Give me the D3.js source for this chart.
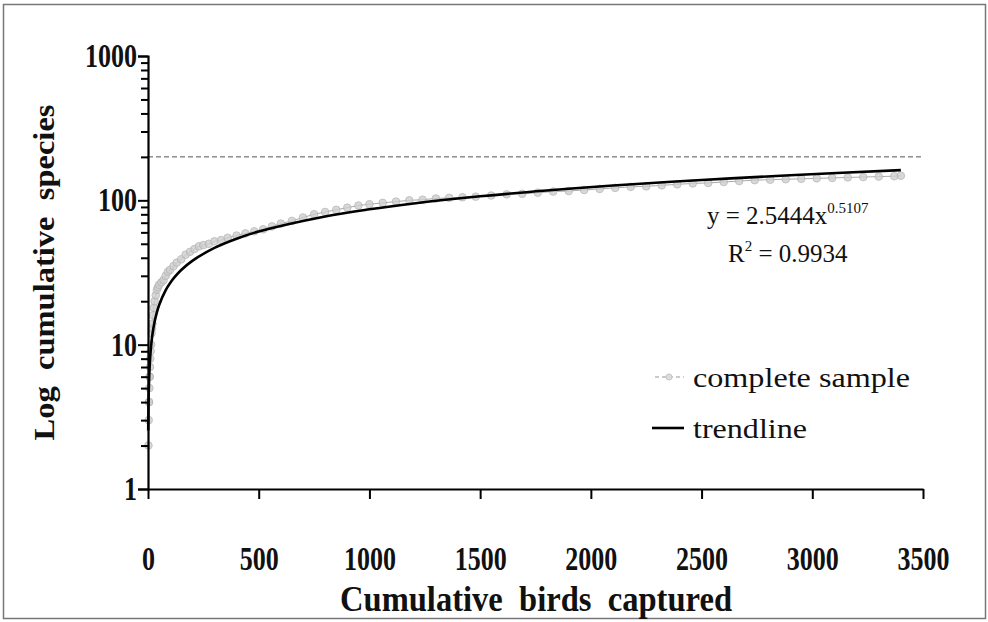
<!DOCTYPE html>
<html><head><meta charset="utf-8">
<script src="https://cdn.jsdelivr.net/npm/d3@7"></script>
<style>
html,body{margin:0;padding:0;background:#fff;}
svg{display:block;}
text{font-family:"Liberation Serif","Times New Roman",serif;fill:#111;}
</style></head>
<body>
<svg id="chart" width="988" height="622"></svg>
<script>
// ---- data ----
const birds = [2,3,4,5,6,7,8,9,10,12,14,16,18,20,23,26,30,35,40,45,50,60,70,80,90,100,115,130,150,170,190,210,230,250,275,300,330,360,400,440,480,520,560,600,650,700,750,800,850,900,950,1000,1060,1120,1180,1240,1300,1360,1420,1480,1550,1620,1690,1760,1830,1900,1970,2040,2110,2180,2250,2320,2390,2460,2530,2600,2670,2740,2810,2880,2950,3020,3090,3160,3230,3300,3370,3400];
const species = [2,3,4,4,5,6,6,7,8,9,10,12,13,14,16,18,20,22,24,25,26,27,28,30,32,33,35,37,39,42,44,46,48,49,50,52,53,55,57,59,61,63,66,69,72,76,80,83,86,89,92,94,96,98,100,101,103,104,105,106,108,110,111,113,115,116,118,120,122,124,125,127,129,131,132,134,136,138,139,140,141,142,143,144,145,146,147,148];
// trendline y = 2.5444x^0.5107, values as drawn
const trendX = [1,2,3,5,8,12,15,20,30,40,50,80,100,120,150,200,300,400,500,800,1000,1200,1500,1800,2100,2500,2900,3400];
const trendY = [2.544,3.625,4.459,5.788,7.358,9.052,10.14,11.75,14.45,16.74,18.76,23.85,26.73,29.34,32.88,38.08,46.85,54.26,60.82,77.30,86.64,95.08,106.6,117.0,126.6,138.3,149.2,161.9];
const xTicks = [0,500,1000,1500,2000,2500,3000,3500];
const yTicks = [1,10,100,1000];
const yMinor = [2,3,4,5,6,7,8,9,20,30,40,50,60,70,80,90,200,300,400,500,600,700,800,900];
const asymptote = 200;
const legendLabels = ["complete sample","trendline"];
const xTitle = "Cumulative  birds  captured";
const yTitle = "Log  cumulative  species";

const svg = d3.select("#chart");
// frame
svg.append("rect").attr("x",3.5).attr("y",4.5).attr("width",982).attr("height",614)
  .attr("fill","#fff").attr("stroke","#777").attr("stroke-width",1.5);

const x = d3.scaleLinear().domain([0,3500]).range([148,923]);
const y = d3.scaleLog().domain([1,1000]).range([489,56]);

// dashed asymptote
svg.append("line").attr("x1",x(0)).attr("x2",922).attr("y1",y(asymptote)).attr("y2",y(asymptote))
  .attr("stroke","#555").attr("stroke-width",1).attr("stroke-dasharray","5,3");

// data series
const pts = birds.map((b,i)=>[b,species[i]]);
svg.append("path").datum(pts)
  .attr("d", d3.line().x(d=>x(d[0])).y(d=>y(d[1])))
  .attr("fill","none").attr("stroke","#aaa").attr("stroke-width",1);
svg.append("g").selectAll("circle").data(pts).join("circle")
  .attr("cx",d=>x(d[0])).attr("cy",d=>y(d[1])).attr("r",3.8)
  .attr("fill","#cfcfcf").attr("stroke","#b3b3b3").attr("stroke-width",1).attr("opacity",0.8);

// trendline
const tpts = trendX.map((t,i)=>[t,trendY[i]]);
svg.append("path").datum(tpts)
  .attr("d", d3.line().x(d=>x(d[0])).y(d=>y(d[1])).curve(d3.curveCatmullRom.alpha(0.5)))
  .attr("fill","none").attr("stroke","#000").attr("stroke-width",2.6);

// axes
const fmt = d3.format("d");
const yAxis = svg.append("g").attr("transform",`translate(${x(0)},0)`)
  .call(d3.axisLeft(y).tickValues(yTicks).tickSize(10).tickPadding(1).tickFormat(fmt));
svg.append("g").attr("transform",`translate(${x(0)},0)`)
  .call(d3.axisLeft(y).tickValues(yMinor).tickSize(7).tickFormat(""))
  .call(g=>g.select(".domain").remove());
const xAxis = svg.append("g").attr("transform",`translate(0,${y(1)})`)
  .call(d3.axisBottom(x).tickValues(xTicks).tickSize(10).tickSizeOuter(0).tickFormat(fmt));
svg.selectAll(".domain").attr("stroke","#000").attr("stroke-width",2.2);
svg.selectAll(".tick line").attr("stroke","#000").attr("stroke-width",2);
svg.selectAll(".tick text").attr("font-family","Liberation Serif, Times New Roman, serif")
  .attr("font-size",33).attr("font-weight","bold").attr("fill","#111")
  .attr("lengthAdjust","spacingAndGlyphs")
  .attr("textLength",function(){ return this.textContent.length*13; });
xAxis.selectAll(".tick text").attr("dy","0").attr("y",81);

// axis titles
svg.append("text").attr("x",536).attr("y",611).attr("text-anchor","middle")
  .attr("font-size",36).attr("font-weight","bold").attr("textLength",392).attr("lengthAdjust","spacingAndGlyphs")
  .style("white-space","pre").text(xTitle);
svg.append("text").attr("transform","translate(54,272.5) rotate(-90)").attr("text-anchor","middle")
  .attr("font-size",30).attr("font-weight","bold").attr("textLength",336).attr("lengthAdjust","spacingAndGlyphs")
  .style("white-space","pre").text(yTitle);

// equation
const eq = svg.append("text").attr("x",707).attr("y",224).attr("font-size",25);
eq.append("tspan").text("y = 2.5444x");
eq.append("tspan").attr("font-size",15).attr("dy",-11).text("0.5107");
const r2 = svg.append("text").attr("x",728).attr("y",262).attr("font-size",25);
r2.append("tspan").text("R");
r2.append("tspan").attr("font-size",15).attr("dy",-11).text("2");
r2.append("tspan").attr("dy",11).text(" = 0.9934");

// legend
const lg = svg.append("g");
lg.append("line").attr("x1",655).attr("x2",684).attr("y1",377).attr("y2",377)
  .attr("stroke","#bbb").attr("stroke-width",1.5).attr("stroke-dasharray","4,3");
lg.append("circle").attr("cx",669).attr("cy",377).attr("r",3).attr("fill","#ddd").attr("stroke","#c4c4c4");
lg.append("text").attr("x",693).attr("y",387).attr("font-size",27)
  .attr("textLength",217).attr("lengthAdjust","spacingAndGlyphs").text(legendLabels[0]);
lg.append("line").attr("x1",652).attr("x2",684).attr("y1",428).attr("y2",428)
  .attr("stroke","#000").attr("stroke-width",2.6);
lg.append("text").attr("x",693).attr("y",438).attr("font-size",27)
  .attr("textLength",114).attr("lengthAdjust","spacingAndGlyphs").text(legendLabels[1]);
</script>
</body></html>
